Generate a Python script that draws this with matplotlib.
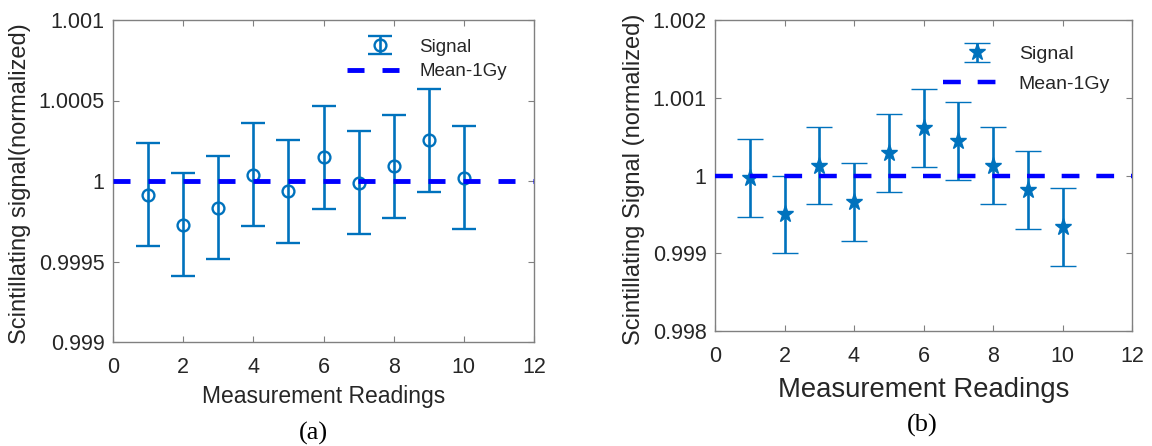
import matplotlib
matplotlib.use("Agg")
import matplotlib.pyplot as plt

plt.rcParams['font.family'] = ['Liberation Sans', 'DejaVu Sans']

# ---------------- data ----------------
readings = [1, 2, 3, 4, 5, 6, 7, 8, 9, 10]

signal_a = [0.999914, 0.999728, 0.999833, 1.000039, 0.999935,
            1.000146, 0.999989, 1.000093, 1.000253, 1.000021]
err_a = [0.00032, 0.00032, 0.00032, 0.00032, 0.00032,
         0.00032, 0.00032, 0.00032, 0.00032, 0.00032]

signal_b = [0.99997, 0.99950, 1.000128, 0.999658, 1.00029,
            1.000607, 1.000448, 1.000128, 0.999814, 0.999335]
err_b = [0.0005, 0.0005, 0.0005, 0.0005, 0.0005,
         0.0005, 0.0005, 0.0005, 0.0005, 0.0005]

mean_value = 1.0

xlim = (0, 12)
xticks = [0, 2, 4, 6, 8, 10, 12]
ylim_a = (0.999, 1.001)
yticks_a = [0.999, 0.9995, 1.0, 1.0005, 1.001]
yticklabels_a = ['0.999', '0.9995', '1', '1.0005', '1.001']
ylim_b = (0.998, 1.002)
yticks_b = [0.998, 0.999, 1.0, 1.001, 1.002]
yticklabels_b = ['0.998', '0.999', '1', '1.001', '1.002']

labels = ['Signal', 'Mean-1Gy']
xlabel = 'Measurement Readings'
ylabel_a = 'Scintillating signal(normalized)'
ylabel_b = 'Scintillating Signal (normalized)'
captions = ['(a)', '(b)']

# ---------------- styling ----------------
W, H = 1152, 446
ERR_C = '#0072BD'
MEAN_C = '#0000FF'
TXT_C = '#262626'
SPINE_C = '#808080'

fig = plt.figure(figsize=(W / 100, H / 100), dpi=100)


def px_axes(l, t, r, b):
    return fig.add_axes([l / W, 1 - b / H, (r - l) / W, (b - t) / H])


def style_axes(ax, yt, ytl, ylim, tick_fs):
    ax.set_xlim(*xlim)
    ax.set_ylim(*ylim)
    ax.set_xticks(xticks)
    ax.set_xticklabels([str(t) for t in xticks])
    ax.set_yticks(yt)
    ax.set_yticklabels(ytl)
    for s in ax.spines.values():
        s.set_color(SPINE_C)
        s.set_linewidth(1.0)
    ax.tick_params(direction='in', top=True, right=True, length=4,
                   width=0.8, color=SPINE_C, labelcolor=TXT_C,
                   labelsize=tick_fs)
    ax.tick_params(axis='x', pad=11)
    ax.tick_params(axis='y', pad=6)


# ---------------- panel (a) ----------------
ax1 = px_axes(113, 20, 534, 342)
style_axes(ax1, yticks_a, yticklabels_a, ylim_a, 15.5)
eb1 = ax1.errorbar(readings, signal_a, yerr=err_a, fmt='o', color=ERR_C,
                   ecolor=ERR_C, elinewidth=1.9, capsize=8.5, capthick=1.9,
                   markersize=8.5, markerfacecolor='none',
                   markeredgewidth=1.7, label=labels[0], zorder=2)
ln1, = ax1.plot(xlim, [mean_value, mean_value], color=MEAN_C, lw=3.5,
                linestyle=(0, (3.5, 3.7)), label=labels[1], zorder=3)
ax1.set_xlabel(xlabel, fontsize=16.5, color=TXT_C)
ax1.xaxis.label.set_va('center')
ax1.xaxis.set_label_coords(0.5, (342 - 397) / 322)
ax1.set_ylabel(ylabel_a, fontsize=17, color=TXT_C)
ax1.yaxis.label.set_va('center')
ax1.yaxis.set_label_coords((20 - 113) / 421, (342 - 184) / 322)
leg1 = ax1.legend(handles=[eb1, ln1], labels=labels, loc='upper left',
                  bbox_to_anchor=(347 / W, 1 - 38.5 / H),
                  bbox_transform=fig.transFigure, frameon=False,
                  fontsize=13.5, borderpad=0, borderaxespad=0,
                  handlelength=3.5, handletextpad=0.35, labelspacing=0.4)
for t in leg1.get_texts():
    t.set_color(TXT_C)

# ---------------- panel (b) ----------------
ax2 = px_axes(715, 20, 1132, 331)
style_axes(ax2, yticks_b, yticklabels_b, ylim_b, 15.5)
eb2 = ax2.errorbar(readings, signal_b, yerr=err_b, fmt='*', color=ERR_C,
                   ecolor=ERR_C, elinewidth=1.9, capsize=9.5, capthick=1.9,
                   markersize=12.5, markerfacecolor=ERR_C,
                   markeredgewidth=1.0, label=labels[0], zorder=2)
ln2, = ax2.plot(xlim, [mean_value, mean_value], color=MEAN_C, lw=3.2,
                linestyle=(0, (4.0, 3.8)), label=labels[1], zorder=3)
ax2.set_xlabel(xlabel, fontsize=19.8, color=TXT_C)
ax2.xaxis.label.set_va('center')
ax2.xaxis.set_label_coords(0.5, (331 - 390) / 311)
ax2.set_ylabel(ylabel_b, fontsize=17, color=TXT_C)
ax2.yaxis.label.set_va('center')
ax2.yaxis.set_label_coords((634 - 715) / 417, (331 - 179) / 311)
leg2 = ax2.legend(handles=[eb2, ln2], labels=labels, loc='upper left',
                  bbox_to_anchor=(943 / W, 1 - 45.5 / H),
                  bbox_transform=fig.transFigure, frameon=False,
                  fontsize=14, borderpad=0, borderaxespad=0,
                  handlelength=3.5, handletextpad=0.4, labelspacing=0.62)
for t in leg2.get_texts():
    t.set_color(TXT_C)

# ---------------- captions ----------------
fig.text(313 / W, 1 - 433 / H, captions[0], family='Liberation Serif',
         fontsize=19, ha='center', va='center', color='black')
fig.text(922 / W, 1 - 425 / H, captions[1], family='Liberation Serif',
         fontsize=19, ha='center', va='center', color='black')

fig.savefig('out.png', dpi=100, facecolor='white')
